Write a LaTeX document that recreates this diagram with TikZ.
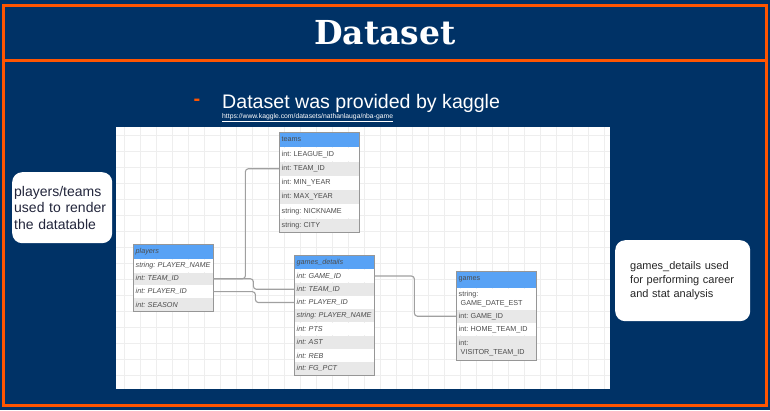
\documentclass[tikz,border=0pt]{standalone}
\usepackage{fontspec}
\setmainfont{Liberation Sans}
\newfontfamily\titlefont{DejaVu Serif}
\usetikzlibrary{calc}
\definecolor{navy}{RGB}{0,50,102}
\definecolor{frameorange}{RGB}{255,85,0}
\definecolor{hdrblue}{RGB}{88,162,245}
\definecolor{rowgray}{RGB}{232,232,232}
\definecolor{tblline}{RGB}{150,150,150}
\definecolor{conncol}{RGB}{160,160,160}
\definecolor{gridcol}{RGB}{238,238,238}
\definecolor{tbltext}{RGB}{75,75,75}
\definecolor{notetext}{RGB}{35,38,60}
\frenchspacing
\begin{document}
\frenchspacing
\begin{tikzpicture}[x=1pt,y=-1pt,
  cell/.style={anchor=north west, inner xsep=2.5pt, inner ysep=0pt, text width=75pt,
    align=left, font=\fontsize{7.2}{8.6}\selectfont\frenchspacing, text=tbltext},
  rw/.style={cell, fill=white},
  rg/.style={cell, fill=rowgray},
  hdr/.style={cell, fill=hdrblue, text=black!70},
  tblborder/.style={draw=tblline, line width=0.8pt},
  conn/.style={draw=conncol, line width=1.1pt, rounded corners=3pt},
  frame/.style={draw=frameorange, line width=3pt},
  callout/.style={fill=white, rounded corners=10pt, anchor=north west, align=left}
]
% background
\fill[navy] (0,0) rectangle (770,410);
\draw[frame] (3,5) rectangle (766,60);
\draw[frame] (3,60) rectangle (766,405);
\node[font=\titlefont\bfseries\fontsize{33}{38}\selectfont, text=white] (title) at (385,33) {Dataset};

% subtitle
\node[text=frameorange, font=\bfseries\fontsize{20}{22}\selectfont] (dash) at (197,102) {-};
\node[anchor=west, inner sep=0pt, text=white, font=\fontsize{19.6}{22}\selectfont] (sub) at (222,103) {Dataset was provided by kaggle};
\node[anchor=west, inner sep=0pt, text=white, font=\fontsize{6.8}{7.5}\selectfont] (url) at (222,118) {\underline{https://www.kaggle.com/datasets/nathanlauga/nba-game}};

% diagram canvas
\fill[white] (116,127) rectangle (610,389);
\foreach \gx in {124,140,...,608} \draw[gridcol, line width=0.5pt] (\gx,127) -- (\gx,389);
\foreach \gy in {135,151,...,387} \draw[gridcol, line width=0.5pt] (116,\gy) -- (610,\gy);

% teams
\node[hdr, minimum height=15pt] (teams-hdr) at (279,132) {teams};
\node[rw, minimum height=13.8pt] (teams-league) at (teams-hdr.south west) {int: LEAGUE\_ID};
\node[rg, minimum height=13.8pt] (teams-team) at (teams-league.south west) {int: TEAM\_ID};
\node[rw, minimum height=13.8pt] (teams-min) at (teams-team.south west) {int: MIN\_YEAR};
\node[rg, minimum height=13.8pt] (teams-max) at (teams-min.south west) {int: MAX\_YEAR};
\node[rw, minimum height=13.8pt] (teams-nick) at (teams-max.south west) {string: NICKNAME};
\node[rg, minimum height=13.8pt] (teams-city) at (teams-nick.south west) {string: CITY};
\draw[tblborder] (teams-hdr.north west) rectangle (teams-city.south east);

% players
\node[hdr, minimum height=15pt] (pl-hdr) at (133,244) {\itshape players};
\node[rw, minimum height=12.5pt] (pl-name) at (pl-hdr.south west) {\mbox{\itshape string: PLAYER\_NAME}};
\node[rg, minimum height=12.5pt] (pl-team) at (pl-name.south west) {\itshape int: TEAM\_ID};
\node[rw, minimum height=12.5pt] (pl-pid) at (pl-team.south west) {\itshape int: PLAYER\_ID};
\node[rg, minimum height=12.5pt] (pl-season) at (pl-pid.south west) {\itshape int: SEASON};
\draw[tblborder] (pl-hdr.north west) rectangle (pl-season.south east);

% games_details
\node[hdr, minimum height=14pt] (gd-hdr) at (294,255) {\itshape games\_details};
\node[rw, minimum height=12.85pt] (gd-game) at (gd-hdr.south west) {\itshape int: GAME\_ID};
\node[rg, minimum height=12.85pt] (gd-team) at (gd-game.south west) {\itshape int: TEAM\_ID};
\node[rw, minimum height=12.85pt] (gd-pid) at (gd-team.south west) {\itshape int: PLAYER\_ID};
\node[rg, minimum height=12.85pt] (gd-pname) at (gd-pid.south west) {\mbox{\itshape string: PLAYER\_NAME}};
\node[rw, minimum height=12.85pt] (gd-pts) at (gd-pname.south west) {\itshape int: PTS};
\node[rg, minimum height=12.85pt] (gd-ast) at (gd-pts.south west) {\itshape int: AST};
\node[rw, minimum height=12.85pt] (gd-reb) at (gd-ast.south west) {\itshape int: REB};
\node[rg, minimum height=12.85pt] (gd-fg) at (gd-reb.south west) {\itshape int: FG\_PCT};
\draw[tblborder] (gd-hdr.north west) rectangle (gd-fg.south east);

% games
\node[hdr, minimum height=17pt] (gm-hdr) at (456,271) {games};
\node[rw, minimum height=21pt] (gm-date) at (gm-hdr.south west) {string:\\\hspace*{2pt}GAME\_DATE\_EST};
\node[rg, minimum height=12.5pt] (gm-id) at (gm-date.south west) {int: GAME\_ID};
\node[rw, minimum height=12.5pt] (gm-home) at (gm-id.south west) {int: HOME\_TEAM\_ID};
\node[rg, minimum height=24pt] (gm-vis) at (gm-home.south west) {int:\\\hspace*{2pt}VISITOR\_TEAM\_ID};
\draw[tblborder] (gm-hdr.north west) rectangle (gm-vis.south east);

% connectors
\draw[conn] (pl-team.east) -- ++(32,0) |- (teams-team.west);
\draw[conn] (pl-team.east) -- ++(40,0) |- (gd-team.west);
\draw[conn] (pl-pid.east) -- ++(42,0) |- (gd-pid.west);
\draw[conn] (gd-game.east) -- ++(40,0) |- (gm-id.west);

% callouts
\node[callout, text=notetext, text width=96pt, inner xsep=2pt, minimum height=71pt,
  font=\fontsize{14}{16.5}\selectfont] (note1) at (12,172)
  {players/teams\\used to render\\the datatable};
\node[callout, text=black!85, text width=105pt, inner xsep=15pt, minimum height=81pt,
  font=\fontsize{11}{14}\selectfont] (note2) at (615,240)
  {games\_details used\\for performing career\\and stat analysis};
\end{tikzpicture}
\end{document}
